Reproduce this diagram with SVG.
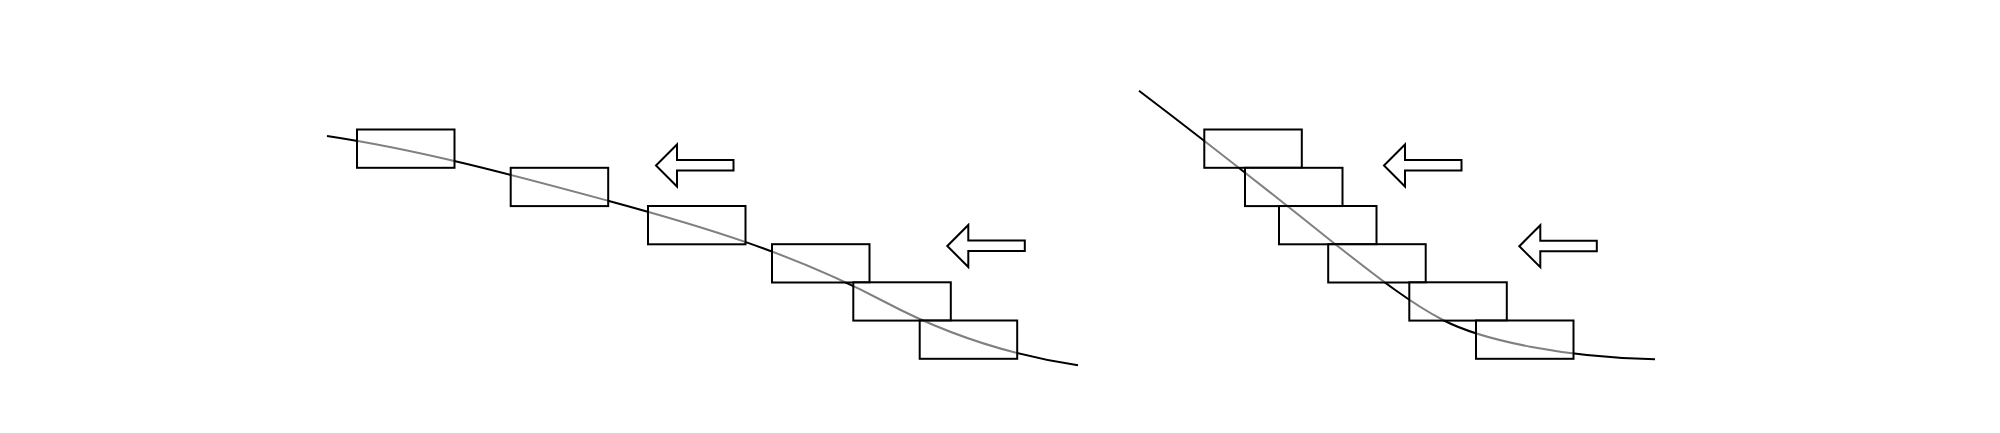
<svg xmlns="http://www.w3.org/2000/svg" xmlns:xlink="http://www.w3.org/1999/xlink" width="2000" height="433" viewBox="0 0 2000 433">
<style>
.curve{fill:none;stroke:#000;stroke-width:2}
.blk{fill:#fff;fill-opacity:0.5;stroke:#000;stroke-width:2}
.arr{fill:#fff;stroke:#000;stroke-width:2;stroke-linejoin:miter}
</style>
<defs>
<path id="arrowShape" d="M0,0 L21,-21 L21,-5.5 L77.5,-5.5 L77.5,5 L21,5 L21,21 Z"/>
</defs>
<rect width="2000" height="433" fill="#fff"/>
<g id="connectors">
<path class="curve" d="M327,136 C420.7,150 514.3,175.4 608,200.7 C700.3,225.7 792.7,253 885,302 C949.3,336.1 1013.7,355.7 1078,365.3"/>
<path class="curve" d="M1139,90.7 C1204.3,140.3 1269.7,191.7 1335,244 C1371,272 1407,301.3 1443,320 C1483,340.8 1565,357.3 1655,359.3"/>
</g>
<g id="left-stair">
<g id="L1"><rect class="blk" x="357" y="129.5" width="97.5" height="38.3"/></g>
<g id="L2"><rect class="blk" x="510.7" y="167.8" width="97.5" height="38.3"/></g>
<g id="L3"><rect class="blk" x="648" y="206" width="97.5" height="38.3"/></g>
<g id="L4"><rect class="blk" x="772" y="244.2" width="97.5" height="38.3"/></g>
<g id="L5"><rect class="blk" x="853.3" y="282.3" width="97.5" height="38.3"/></g>
<g id="L6"><rect class="blk" x="919.7" y="320.5" width="97.5" height="38.3"/></g>
</g>
<g id="right-stair">
<g id="R1"><rect class="blk" x="1204.3" y="129.5" width="97.5" height="38.3"/></g>
<g id="R2"><rect class="blk" x="1245" y="167.8" width="97.5" height="38.3"/></g>
<g id="R3"><rect class="blk" x="1279" y="206" width="97.5" height="38.3"/></g>
<g id="R4"><rect class="blk" x="1328.2" y="244.2" width="97.5" height="38.3"/></g>
<g id="R5"><rect class="blk" x="1409.3" y="282.3" width="97.5" height="38.3"/></g>
<g id="R6"><rect class="blk" x="1476" y="320.5" width="97.5" height="38.3"/></g>
</g>
<g id="arrow-1"><use xlink:href="#arrowShape" href="#arrowShape" class="arr" transform="translate(656,165.5)"/></g>
<g id="arrow-2"><use xlink:href="#arrowShape" href="#arrowShape" class="arr" transform="translate(947.3,246)"/></g>
<g id="arrow-3"><use xlink:href="#arrowShape" href="#arrowShape" class="arr" transform="translate(1384,165.5)"/></g>
<g id="arrow-4"><use xlink:href="#arrowShape" href="#arrowShape" class="arr" transform="translate(1519.3,246.2)"/></g>
</svg>
